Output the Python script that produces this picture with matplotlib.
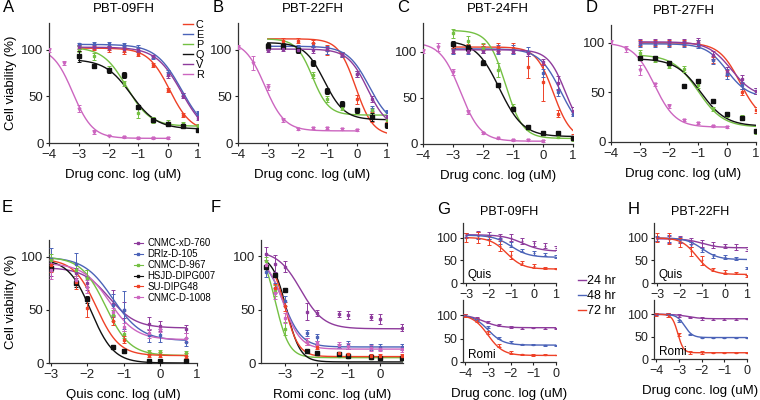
import numpy as np
import matplotlib
matplotlib.use("Agg")
import matplotlib.pyplot as plt
from matplotlib.lines import Line2D

plt.rcParams["font.family"] = ["Liberation Sans", "DejaVu Sans"]
plt.rcParams["font.size"] = 9

RED = "#ee4127"
BLUE = "#4b63b8"
GREEN = "#74c043"
BLACK = "#111111"
PURPLE = "#8e3b9c"
PINK = "#cc66c0"

# ---- top row: 6 drugs per cell line ----
drug_doses = [-3, -2.5, -2, -1.5, -1, -0.5, 0, 0.5, 1]
romi_doses = [-4, -3.5, -3, -2.5, -2, -1.5, -1, -0.5, 0]
drug_names = ["C", "E", "P", "Q", "V", "R"]
drug_colors = [RED, BLUE, GREEN, BLACK, PURPLE, PINK]

# values per drug (C, E, P, Q, V, R); fit = (top, bottom, logIC50, hill)
a_vals = [[102, 102, 101, 99, 96, 84, 57, 30, 18],
          [106, 106, 106, 105, 102, 92, 75, 52, 32],
          [101, 93, 80, 64, 32, 25, 22, 20, 18],
          [93, 83, 78, 73, 39, 25, 20, 18, 14],
          [103, 103, 102, 101, 100, 93, 73, 51, 27],
          [100, 86, 37, 12, 8, 6, 5, 5, 5]]
a_err = [[3, 2, 3, 3, 2, 2, 2, 2, 2], [2, 3, 3, 2, 3, 2, 3, 2, 2],
         [3, 4, 3, 3, 5, 3, 3, 3, 2], [6, 2, 3, 3, 2, 2, 2, 2, 2],
         [2, 2, 2, 3, 2, 2, 3, 3, 2], [2, 2, 4, 2, 1, 1, 1, 1, 1]]
a_fit = [(102, 12, 0.05, 1.2), (106, 8, 0.45, 1.0), (103, 18, -1.4, 1.1),
         (90, 15, -1.25, 1.0), (103, 6, 0.45, 1.0), (103, 5, -3.2, 1.3)]

b_vals = [[103, 110, 110, 107, 100, 95, 47, 28, 20],
          [103, 104, 102, 104, 100, 95, 74, 37, 33],
          [104, 104, 100, 73, 47, 38, 35, 35, 25],
          [104, 104, 100, 86, 56, 42, 35, 28, 19],
          [100, 101, 100, 100, 101, 95, 74, 47, 28],
          [103, 86, 60, 25, 15, 16, 16, 15, 14]]
b_err = [[3, 3, 3, 4, 5, 3, 5, 5, 3], [3, 3, 3, 3, 4, 3, 3, 3, 3],
         [2, 3, 2, 3, 3, 3, 3, 3, 3], [3, 3, 3, 3, 3, 3, 3, 4, 3],
         [2, 2, 2, 3, 2, 2, 3, 3, 2], [2, 8, 3, 2, 1, 1, 1, 1, 1]]
b_fit = [(112, 8, -0.05, 1.5), (104, 18, 0.4, 1.2), (112, 30, -1.5, 1.6),
         (108, 25, -1.1, 1.3), (101, 15, 0.35, 1.3), (110, 13, -3.1, 1.3)]

c_vals = [[103, 105, 105, 105, 104, 83, 67, 33, 8],
          [102, 102, 102, 102, 102, 100, 77, 56, 33],
          [120, 112, 104, 80, 40, 17, 12, 8, 5],
          [108, 104, 88, 64, 38, 18, 12, 12, 7],
          [101, 101, 101, 101, 101, 98, 89, 66, 36],
          [101, 105, 78, 35, 12, 6, 4, 4, 3]]
c_err = [[4, 3, 3, 4, 5, 12, 20, 4, 3], [5, 5, 4, 5, 5, 5, 4, 4, 3],
         [5, 5, 5, 8, 3, 2, 2, 2, 2], [4, 3, 3, 2, 2, 2, 2, 2, 2],
         [2, 2, 2, 3, 2, 3, 3, 8, 4], [2, 4, 3, 2, 1, 1, 1, 1, 1]]
c_fit = [(105, 5, 0.35, 1.5), (103, 10, 0.6, 1.2), (123, 6, -1.25, 1.5),
         (112, 8, -1.45, 1.1), (102, 10, 0.75, 1.5), (110, 3, -2.75, 1.3)]

d_vals = [[100, 100, 100, 100, 100, 83, 70, 50, 32],
          [99, 99, 99, 99, 99, 83, 69, 57, 51],
          [90, 83, 77, 74, 57, 33, 27, 25, 10],
          [85, 85, 80, 56, 62, 41, 28, 24, 11],
          [101, 101, 101, 101, 101, 88, 72, 64, 51],
          [101, 94, 73, 58, 36, 22, 19, 16, 15]]
d_err = [[3, 3, 3, 3, 3, 3, 3, 3, 3], [3, 3, 3, 3, 4, 4, 5, 4, 3],
         [3, 2, 2, 3, 3, 2, 2, 2, 2], [2, 2, 2, 2, 2, 2, 2, 2, 2],
         [3, 3, 3, 3, 4, 4, 4, 4, 3], [2, 3, 5, 2, 2, 1, 1, 1, 1]]
d_fit = [(100, 20, 0.45, 1.2), (99, 45, 0.0, 1.2), (88, 15, -1.0, 1.0),
         (84, 16, -0.9, 1.0), (101, 45, 0.15, 1.1), (100, 15, -2.5, 1.2)]

top_panels = [("A", "PBT-09FH", a_vals, a_err, a_fit, 129),
              ("B", "PBT-22FH", b_vals, b_err, b_fit, 129),
              ("C", "PBT-24FH", c_vals, c_err, c_fit, 131),
              ("D", "PBT-27FH", d_vals, d_err, d_fit, 118)]
top_boxes = [(49, 23, 198, 143), (238, 23, 387, 143),
             (423, 23, 573, 144), (611, 25, 756, 142)]
top_letter_x = [3, 213, 397, 586]

# ---- E / F: lines ----
line_names = ["CNMC-xD-760", "DRlz-D-105", "CNMC-D-967",
              "HSJD-DIPG007", "SU-DIPG48", "CNMC-D-1008"]
line_colors = [PURPLE, BLUE, GREEN, BLACK, RED, PINK]
quis_doses = [-3, -2.3, -2, -1.3, -1, -0.3, 0, 0.7]
quis_vals = [[88, 85, 75, 56, 50, 37, 35, 32],
             [98, 93, 80, 55, 50, 26, 26, 20],
             [97, 88, 80, 45, 27, 10, 10, 9],
             [90, 75, 60, 15, 11, 2, 2, 2],
             [92, 76, 52, 40, 22, 8, 8, 7],
             [88, 78, 72, 48, 34, 28, 32, 24]]
quis_err = [[6, 5, 6, 13, 8, 6, 5, 4], [10, 11, 8, 10, 18, 6, 6, 4],
            [6, 6, 8, 5, 3, 2, 2, 2], [3, 3, 3, 2, 2, 1, 1, 1],
            [6, 6, 9, 4, 3, 2, 2, 2], [9, 4, 6, 4, 4, 4, 3, 4]]
quis_fit = [(90, 33, -1.4, 1.2), (100, 21, -1.3, 1.1), (100, 7, -1.5, 1.3),
            (98, 0, -1.9, 1.4), (98, 7, -1.75, 1.4), (94, 22, -1.4, 1.2)]

romi_line_doses = [-3.6, -3.3, -3, -2.3, -2, -1.3, -1, -0.3, 0, 0.7]
romi_vals = [[102, 93, 90, 48, 47, 46, 45, 43, 41, 33],
             [85, 70, 58, 28, 24, 16, 17, 15, 15, 15],
             [95, 68, 32, 11, 9, 7, 6, 5, 5, 4],
             [90, 82, 68, 11, 9, 8, 7, 6, 5, 5],
             [None, 70, 53, 20, 15, 9, 8, 7, 7, 7],
             [92, 65, 42, 20, 19, 17, 16, 14, 13, 13]]
romi_err = [[6, 8, 5, 8, 3, 3, 4, 3, 5, 3], [5, 5, 5, 3, 3, 2, 4, 3, 3, 3],
            [4, 5, 6, 2, 1, 1, 1, 1, 1, 1], [2, 2, 2, 1, 1, 1, 1, 1, 1, 1],
            [0, 4, 4, 3, 2, 1, 1, 1, 1, 1], [4, 5, 5, 3, 2, 3, 3, 3, 2, 3]]
romi_fit = [(105, 32, -2.5, 1.2), (100, 15, -3.05, 1.5), (110, 5, -3.3, 2.0),
            (100, 1, -2.95, 2.0), (100, 6, -3.0, 2.0), (100, 13, -3.05, 1.6)]

# ---- G / H: time course ----
time_labels = ["24 hr", "48 hr", "72 hr"]
time_colors = [PURPLE, BLUE, RED]
g_quis_vals = [[107, 107, 105, 103, 100, 93, 88, 83, 78],
               [105, 105, 102, 93, 85, 72, 66, 63, 58],
               [100, 100, 95, 82, 62, 45, 38, 33, 32]]
g_quis_fit = [(107, 70, -0.5, 1.0), (106, 57, -1.0, 1.1), (101, 31, -1.2, 1.2)]
g_romi_vals = [[100, 93, 85, 78, 75, 73, 73, 73, 72],
               [100, 92, 75, 52, 42, 38, 37, 36, 36],
               [99, 90, 63, 35, 20, 16, 15, 15, 15]]
g_romi_fit = [(101, 73, -3.2, 1.2), (101, 36, -3.0, 1.3), (101, 14, -3.0, 1.3)]
h_quis_vals = [[98, 97, 96, 93, 88, 84, 82, 80, 75],
               [99, 99, 96, 85, 73, 60, 58, 55, 33],
               [100, 98, 90, 70, 50, 30, 25, 22, 15]]
h_quis_fit = [(98, 78, -1.0, 1.2), (100, 52, -1.0, 1.2), (100, 19, -1.25, 1.3)]
h_romi_vals = [[100, 100, 97, 93, 91, 90, 90, 90, 90],
               [100, 100, 85, 55, 48, 48, 48, 48, 48],
               [100, 99, 55, 15, 15, 14, 14, 14, 14]]
h_romi_fit = [(100, 90, -2.6, 1.5), (100, 48, -2.75, 2.5), (100, 14, -3.05, 3.5)]
time_err = [[4, 8, 8, 6, 8, 6, 5, 6, 4], [6, 8, 5, 6, 5, 4, 4, 3, 3],
            [10, 12, 10, 10, 9, 4, 4, 3, 2]]

W, H = 760, 400
fig = plt.figure(figsize=(W / 100, H / 100), dpi=100)


def box(x0, y0, x1, y1):
    return fig.add_axes([x0 / W, 1 - y1 / H, (x1 - x0) / W, (y1 - y0) / H])


def logistic(x, fit):
    top, bottom, ic50, hill = fit
    return bottom + (top - bottom) / (1 + 10 ** ((x - ic50) * hill))


def style(ax, xlim, ylim, xticks, fs=9.5):
    ax.set_xlim(*xlim)
    ax.set_ylim(*ylim)
    ax.set_xticks(xticks)
    ax.set_xticklabels([str(t).replace("-", "\u2212") for t in xticks])
    ax.set_yticks([0, 50, 100])
    for s in ["top", "right"]:
        ax.spines[s].set_visible(False)
    for s in ["left", "bottom"]:
        ax.spines[s].set_linewidth(0.9)
        ax.spines[s].set_color("#333333")
    ax.tick_params(labelsize=fs, length=2.5, width=0.8, pad=1.5, colors="#222222")
    ax.patch.set_alpha(0)


def series(ax, doses, vals, err, fit, color, x0, x1, marker="s", ms=2.2):
    xs = [d for d, v in zip(doses, vals) if v is not None]
    ys = [v for v in vals if v is not None]
    es = [e for e, v in zip(err, vals) if v is not None]
    ax.errorbar(xs, ys, yerr=es, fmt=marker, ms=ms, color=color, elinewidth=0.7,
                capsize=1.2, capthick=0.7, zorder=3)
    xx = np.linspace(x0, x1, 200)
    ax.plot(xx, logistic(xx, fit), color=color, lw=1.0, zorder=2)


def letter_at(x, y, s):
    fig.text(x / W, 1 - y / H, s, fontsize=12, va="center", ha="left")


# top row
for (letter, title, vals, err, fits, ytop), b, lx in zip(top_panels, top_boxes, top_letter_x):
    ax = box(*b)
    for i in range(6):
        if drug_names[i] == "R":
            series(ax, romi_doses, vals[i], err[i], fits[i], drug_colors[i], -4, 0, marker="v", ms=2)
        else:
            series(ax, drug_doses, vals[i], err[i], fits[i], drug_colors[i], -3, 1,
                   ms=2.8 if drug_names[i] == "Q" else 2)
    style(ax, (-4, 1), (0, ytop), [-4, -3, -2, -1, 0, 1])
    ax.set_xlabel("Drug conc. log (uM)", fontsize=9.5, labelpad=6)
    ax.set_title(title, fontsize=9.5, pad=8)
    letter_at(lx, 8, letter)
    if letter == "A":
        ax.set_ylabel("Cell viability (%)", fontsize=9.5, labelpad=3)
        handles = [Line2D([], [], color=c, lw=1.0) for c in drug_colors]
        fig.legend(handles, drug_names, loc="upper left", bbox_to_anchor=(183 / W, 1 - 20 / H),
                   frameon=False, fontsize=7.8, handlelength=0.9, handletextpad=0.3,
                   labelspacing=0.0, borderpad=0, borderaxespad=0)

# E
ax = box(49, 240, 197, 363)
for i in range(6):
    series(ax, quis_doses, quis_vals[i], quis_err[i], quis_fit[i], line_colors[i], -3, 0.7,
           ms=2.8 if i == 3 else 2)
style(ax, (-3.05, 1), (0, 116), [-3, -2, -1, 0, 1])
ax.set_xlabel("Quis conc. log (uM)", fontsize=9.5, labelpad=6)
ax.set_ylabel("Cell viability (%)", fontsize=9.5, labelpad=3)
letter_at(2, 208, "E")
handles = [Line2D([], [], color=c, lw=0.8, marker="s", ms=2) for c in line_colors]
fig.legend(handles, line_names, loc="upper left", bbox_to_anchor=(134 / W, 1 - 238 / H),
           frameon=False, fontsize=6.9, handlelength=0.9, handletextpad=0.5,
           labelspacing=0.1, borderpad=0, borderaxespad=0)

# F
ax = box(261, 240, 403, 363)
for i in range(6):
    start = -3.3 if romi_vals[i][0] is None else -3.6
    series(ax, romi_line_doses, romi_vals[i], romi_err[i], romi_fit[i], line_colors[i], start, 0.7,
           ms=2.8 if i == 3 else 2)
style(ax, (-3.75, 0.72), (0, 115), [-3, -2, -1, 0])
ax.set_xlabel("Romi conc. log (uM)", fontsize=9.5, labelpad=6)
letter_at(211, 208, "F")

# G / H
gh = [("G", "PBT-09FH", 463, 556, g_quis_vals, g_quis_fit, g_romi_vals, g_romi_fit, 362, 437),
      ("H", "PBT-22FH", 654, 747, h_quis_vals, h_quis_fit, h_romi_vals, h_romi_fit, 359, 628)]
for letter, title, x0, x1, qv, qf, rv, rf, rb, lx in gh:
    axq = box(x0, 223, x1, 283)
    axr = box(x0, 300, x1, rb)
    for i in range(3):
        series(axq, drug_doses, qv[i], time_err[i], qf[i], time_colors[i], -3, 1, marker="_", ms=2)
        series(axr, romi_doses, rv[i], [e / 3 for e in time_err[i]], rf[i], time_colors[i], -4, 0,
               marker="_", ms=2)
    style(axq, (-3.15, 1), (0, 133), [-3, -2, -1, 0, 1], fs=9)
    style(axr, (-4.1, 0), (0, 132), [-4, -3, -2, -1, 0], fs=9)
    axq.text(0.05, 0.04, "Quis", transform=axq.transAxes, fontsize=8.5, va="bottom")
    axr.text(0.05, 0.02, "Romi", transform=axr.transAxes, fontsize=8.5, va="bottom")
    axq.set_title(title, fontsize=9, pad=6)
    axr.set_xlabel("Drug conc. log (uM)", fontsize=9.5, labelpad=6)
    letter_at(lx, 210, letter)

handles = [Line2D([], [], color=c, lw=1.0) for c in time_colors]
fig.legend(handles, time_labels, loc="upper left", bbox_to_anchor=(578 / W, 1 - 275 / H),
           frameon=False, fontsize=9, handlelength=0.6, handletextpad=0.1,
           labelspacing=0.25, borderpad=0, borderaxespad=0)

fig.savefig("out.png", dpi=100)
